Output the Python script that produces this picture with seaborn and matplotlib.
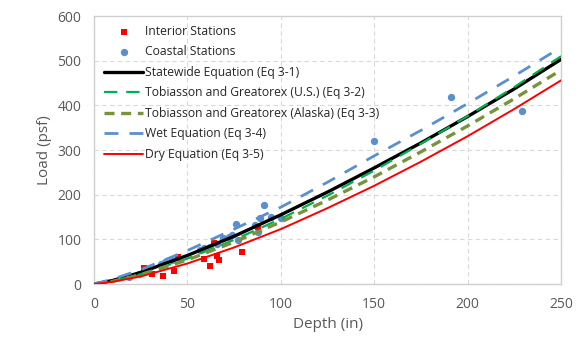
import pandas as pd
import matplotlib
matplotlib.use("Agg")
import matplotlib.pyplot as plt
import seaborn as sns

interior_depth = [27, 31, 37, 43, 45, 59, 62, 64, 66, 67, 79, 88]
interior_load = [37, 22, 18, 29, 61, 57, 41, 92, 63, 54, 71, 127]

coastal_depth = [19, 24, 29, 36, 38, 42, 45, 57, 59, 62, 66, 69, 72, 74, 76, 77,
                 86, 88, 89, 91, 95, 100, 150, 191, 229]
coastal_load = [16, 22, 31, 46, 50, 54, 58, 76, 80, 84, 90, 102, 105, 110, 134, 98,
                132, 117, 147, 178, 150, 148, 320, 418, 387]

# Equation curves, values read at fixed depths
curve_depth = [0, 10, 25, 50, 75, 100, 125, 150, 175, 200, 225, 250]
statewide = [0, 8, 26, 64, 107, 155, 206, 260, 316, 375, 437, 503]
tg_us = [0, 6, 22, 57, 99, 146, 198, 254, 314, 376, 441, 510]
tg_alaska = [0, 6, 21, 54, 94, 139, 188, 240, 296, 354, 415, 479]
wet = [0, 11, 32, 75, 123, 172, 228, 287, 344, 404, 466, 530]
dry = [0, 5, 17, 46, 82, 123, 170, 220, 274, 331, 392, 456]

curves = [
    ("Statewide Equation (Eq 3-1)", statewide, "black", (None, None), 2.4),
    ("Tobiasson and Greatorex (U.S.) (Eq 3-2)", tg_us, "#00B050", (6, 4), 1.6),
    ("Tobiasson and Greatorex (Alaska) (Eq 3-3)", tg_alaska, "#77933C", (3, 2), 2.4),
    ("Wet Equation (Eq 3-4)", wet, "#5B8FCF", (5, 4), 2.0),
    ("Dry Equation (Eq 3-5)", dry, "#FF0000", (None, None), 1.4),
]

sns.set_style("white")
plt.rcParams["font.family"] = ["Open Sans", "DejaVu Sans"]

fig = plt.figure(figsize=(5.82, 3.41), dpi=100)
ax = fig.add_axes([0.1615, 0.167, 0.8025, 0.786])

sns.scatterplot(x=interior_depth, y=interior_load, ax=ax, marker="s", color="#FF0000",
                s=24, linewidth=0, label="Interior Stations", zorder=4)
sns.scatterplot(x=coastal_depth, y=coastal_load, ax=ax, marker="o", color="#5B8FCF",
                s=28, linewidth=0, label="Coastal Stations", zorder=3)

for name, vals, col, dash, lw in curves:
    df = pd.DataFrame({"Depth": curve_depth, "Load": vals})
    sns.lineplot(data=df, x="Depth", y="Load", ax=ax, color=col, linewidth=lw,
                 label=name, zorder=5)
    if dash[0] is not None:
        ax.lines[-1].set_dashes(dash)

ax.set_xlim(0, 250)
ax.set_ylim(0, 600)
ax.set_xticks(range(0, 251, 50))
ax.set_yticks(range(0, 601, 100))
ax.grid(True, color="#D9D9D9", linestyle=(0, (4, 3)), linewidth=0.8)
for sp in ax.spines.values():
    sp.set_color("#D0D0D0")
    sp.set_linewidth(1.0)
ax.tick_params(colors="#595959", labelsize=10, length=0, pad=9)
ax.set_xlabel("Depth (in)", color="#595959", fontsize=11)
ax.set_ylabel("Load (psf)", color="#595959", fontsize=11)

leg = ax.legend(loc="upper left", frameon=False, fontsize=8.7, handlelength=3.2,
                handletextpad=0.15, labelspacing=0.62, borderaxespad=0.0,
                bbox_to_anchor=(0.012, 0.985))

fig.savefig("out.png", dpi=100)
